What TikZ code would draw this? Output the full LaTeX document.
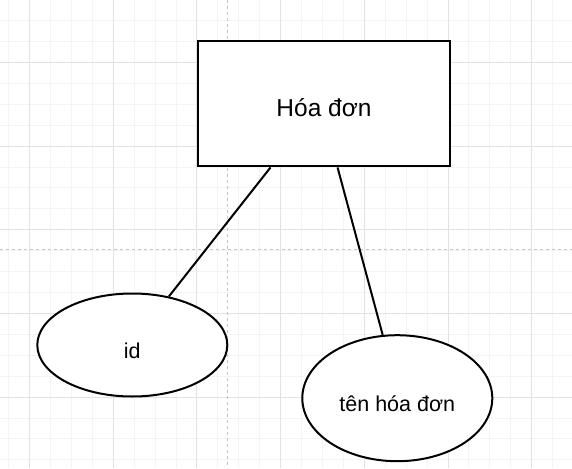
\documentclass[tikz,border=0pt]{standalone}
\usepackage{fontspec}
\setmainfont{Liberation Sans}
\usetikzlibrary{shapes.geometric}
\definecolor{minorgrid}{HTML}{F4F4F4}
\definecolor{majorgrid}{HTML}{E2E2E2}
\definecolor{dashgrid}{HTML}{C4C4C4}
\tikzset{
  minorline/.style={draw=minorgrid, line width=0.8pt},
  majorline/.style={draw=majorgrid, line width=0.8pt},
  guideline/.style={draw=dashgrid, line width=0.8pt, dash pattern=on 3pt off 3pt},
  entitybox/.style={draw, fill=white, line width=2pt, rectangle, inner sep=0pt,
    minimum width=252pt, minimum height=125.5pt, text height=25pt, text depth=0pt,
    font=\fontsize{24.5}{29}\selectfont},
  attrib/.style={draw, fill=white, line width=2pt, ellipse, inner sep=0pt,
    minimum width=190pt, text height=26pt, text depth=0pt,
    font=\fontsize{21.5}{26}\selectfont},
  link/.style={draw, line width=2pt}
}
\begin{document}
\begin{tikzpicture}[x=1pt, y=-1pt]
\useasboundingbox (0,0) rectangle (572,468);
\fill[white] (0,0) rectangle (572,468);
% grid
\foreach \i in {-1,...,26} \draw[minorline] ({29.5+20.92*\i},0) -- ({29.5+20.92*\i},468);
\foreach \i in {-3,...,19} \draw[minorline] (0,{62.3+20.92*\i}) -- (572,{62.3+20.92*\i});
\foreach \i in {0,...,6} \draw[majorline] ({29.5+83.68*\i},0) -- ({29.5+83.68*\i},468);
\foreach \i in {0,...,4} \draw[majorline] (0,{62.3+83.68*\i}) -- (572,{62.3+83.68*\i});
\draw[guideline] (227.7,0) -- (227.7,468);
\draw[guideline] (0,249.3) -- (572,249.3);
% shapes
\node[entitybox] (hd) at (324,103.7) {Hóa đơn};
\node[attrib, minimum height=103pt] (e1) at (132.3,345) {id};
\node[attrib, minimum height=126pt] (e2) at (397.3,398.2) {tên hóa đơn};
% connectors
\draw[link] (hd.230.4) -- (e1.53.4);
\draw[link] (hd.282.6) -- (e2.103.6);
\end{tikzpicture}
\end{document}
